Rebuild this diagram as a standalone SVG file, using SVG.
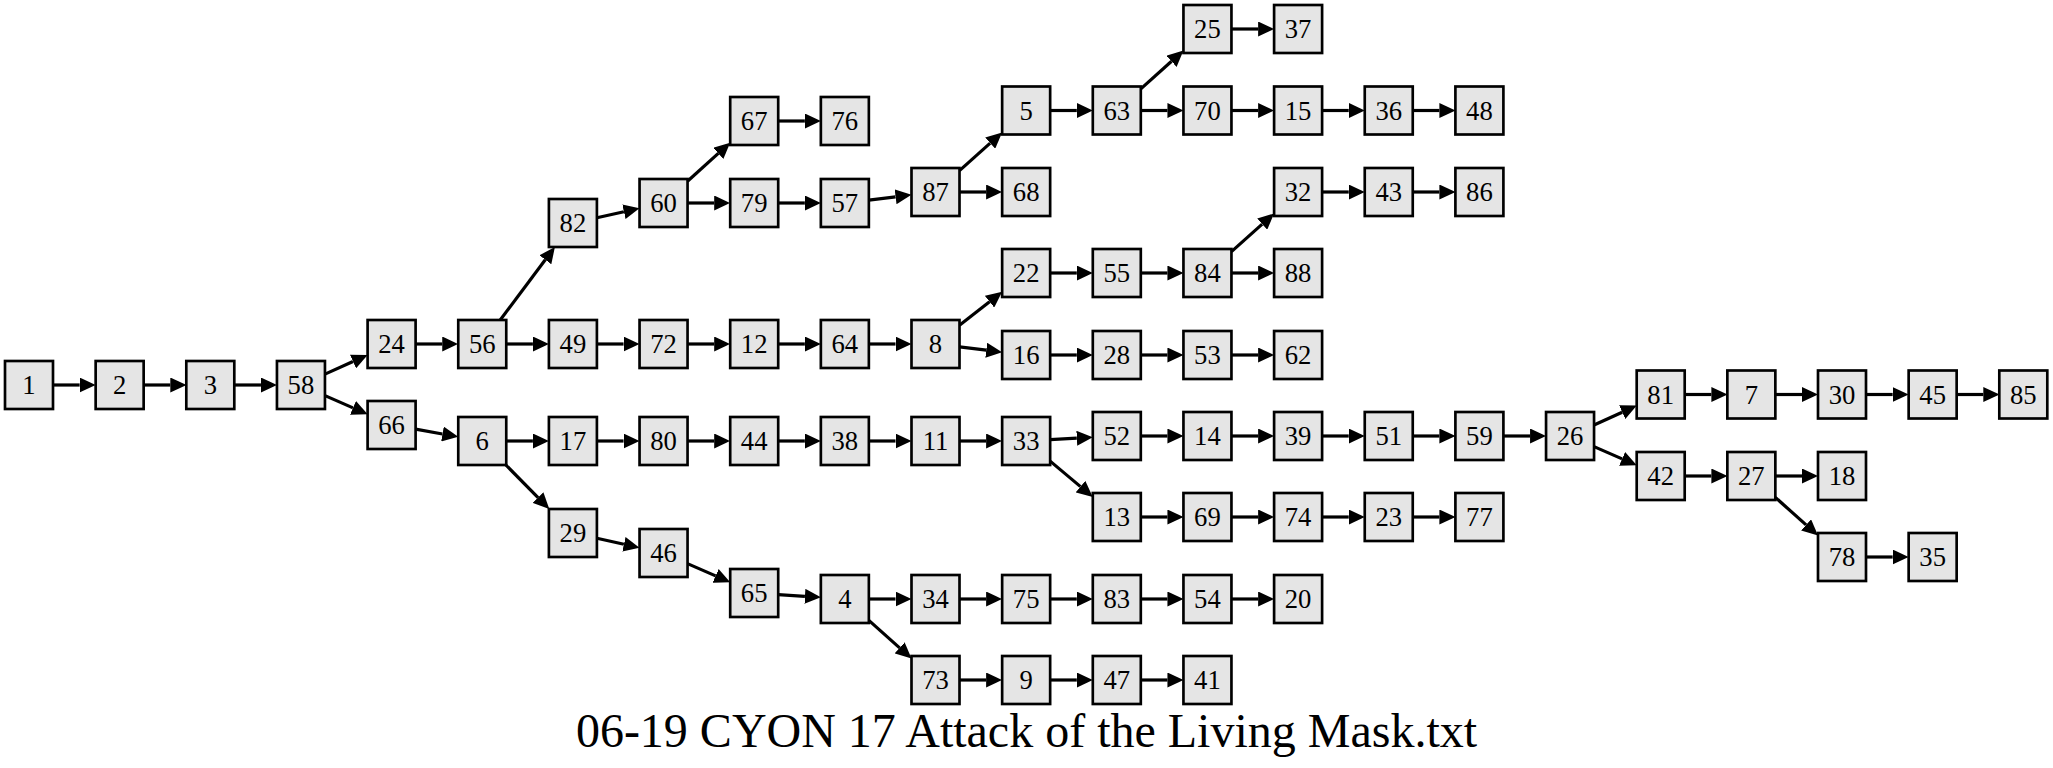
<svg xmlns="http://www.w3.org/2000/svg" width="2053" height="768" viewBox="0 0 2053 768">
<style>
.node rect{fill:#e5e5e5;stroke:#000;stroke-width:2.67}
.node text{font-family:"Liberation Serif","Times New Roman",serif;font-size:26.67px;text-anchor:middle;fill:#000}
.edges line{stroke:#000;stroke-width:3.2;marker-end:url(#ah)}
.title{font-family:"Liberation Serif","Times New Roman",serif;font-size:48px;text-anchor:middle;fill:#000}
</style>
<defs>
<marker id="ah" markerUnits="userSpaceOnUse" viewBox="0 0 16 15" markerWidth="16" markerHeight="15" refX="0" refY="7.5" orient="auto">
<path d="M0,0 L16,7.5 L0,15 z" fill="#000"/>
</marker>
</defs>
<rect width="2053" height="768" fill="#fff"/>
<g class="edges">
<line x1="53" y1="385" x2="79.65" y2="385"/>
<line x1="143.65" y1="385" x2="170.3" y2="385"/>
<line x1="234.3" y1="385" x2="260.95" y2="385"/>
<line x1="325" y1="374.1" x2="353" y2="361.5"/>
<line x1="325" y1="395.6" x2="353" y2="407.9"/>
<line x1="415.6" y1="344" x2="442.25" y2="344"/>
<line x1="506.25" y1="344" x2="532.9" y2="344"/>
<line x1="596.9" y1="344" x2="623.55" y2="344"/>
<line x1="687.55" y1="344" x2="714.2" y2="344"/>
<line x1="778.2" y1="344" x2="804.85" y2="344"/>
<line x1="868.85" y1="344" x2="895.5" y2="344"/>
<line x1="500.2" y1="320" x2="545.3" y2="259.8"/>
<line x1="596.9" y1="217.7" x2="623.9" y2="211.7"/>
<line x1="687.5" y1="181.3" x2="718.3" y2="153.4"/>
<line x1="687.55" y1="203" x2="714.2" y2="203"/>
<line x1="778.2" y1="203" x2="804.85" y2="203"/>
<line x1="778.2" y1="121" x2="804.85" y2="121"/>
<line x1="868.85" y1="200.1" x2="895.6" y2="196.8"/>
<line x1="959.5" y1="170.6" x2="990.2" y2="143.1"/>
<line x1="959.5" y1="192" x2="986.15" y2="192"/>
<line x1="1050.15" y1="110.5" x2="1076.8" y2="110.5"/>
<line x1="1140.8" y1="88.9" x2="1171.55" y2="61.3"/>
<line x1="1140.8" y1="110.5" x2="1167.45" y2="110.5"/>
<line x1="1231.45" y1="29" x2="1258.1" y2="29"/>
<line x1="1231.45" y1="110.5" x2="1258.1" y2="110.5"/>
<line x1="1322.1" y1="110.5" x2="1348.75" y2="110.5"/>
<line x1="1412.75" y1="110.5" x2="1439.4" y2="110.5"/>
<line x1="959.5" y1="325.2" x2="989.55" y2="301.7"/>
<line x1="959.5" y1="346.9" x2="986.25" y2="350.2"/>
<line x1="1050.15" y1="273" x2="1076.8" y2="273"/>
<line x1="1140.8" y1="273" x2="1167.45" y2="273"/>
<line x1="1231.45" y1="251.6" x2="1262.2" y2="224.1"/>
<line x1="1231.45" y1="273" x2="1258.1" y2="273"/>
<line x1="1322.1" y1="192" x2="1348.75" y2="192"/>
<line x1="1412.75" y1="192" x2="1439.4" y2="192"/>
<line x1="1050.15" y1="355" x2="1076.8" y2="355"/>
<line x1="1140.8" y1="355" x2="1167.45" y2="355"/>
<line x1="1231.45" y1="355" x2="1258.1" y2="355"/>
<line x1="415.6" y1="429.2" x2="442.5" y2="434"/>
<line x1="506.25" y1="441" x2="532.9" y2="441"/>
<line x1="596.9" y1="441" x2="623.55" y2="441"/>
<line x1="687.55" y1="441" x2="714.2" y2="441"/>
<line x1="778.2" y1="441" x2="804.85" y2="441"/>
<line x1="868.85" y1="441" x2="895.5" y2="441"/>
<line x1="959.5" y1="441" x2="986.15" y2="441"/>
<line x1="1050.15" y1="439.7" x2="1076.8" y2="438.2"/>
<line x1="1050.15" y1="461.1" x2="1080.5" y2="486.6"/>
<line x1="1140.8" y1="436" x2="1167.45" y2="436"/>
<line x1="1231.45" y1="436" x2="1258.1" y2="436"/>
<line x1="1322.1" y1="436" x2="1348.75" y2="436"/>
<line x1="1412.75" y1="436" x2="1439.4" y2="436"/>
<line x1="1503.4" y1="436" x2="1530.05" y2="436"/>
<line x1="1594.05" y1="425" x2="1622.2" y2="412.2"/>
<line x1="1594.05" y1="446.6" x2="1622.1" y2="458.9"/>
<line x1="1684.7" y1="394.5" x2="1711.35" y2="394.5"/>
<line x1="1775.35" y1="394.5" x2="1802" y2="394.5"/>
<line x1="1866" y1="394.5" x2="1892.65" y2="394.5"/>
<line x1="1956.65" y1="394.5" x2="1983.3" y2="394.5"/>
<line x1="1684.7" y1="476" x2="1711.35" y2="476"/>
<line x1="1775.35" y1="476" x2="1802" y2="476"/>
<line x1="1775.35" y1="497.4" x2="1806.1" y2="524.9"/>
<line x1="1866" y1="557" x2="1892.65" y2="557"/>
<line x1="1140.8" y1="517" x2="1167.45" y2="517"/>
<line x1="1231.45" y1="517" x2="1258.1" y2="517"/>
<line x1="1322.1" y1="517" x2="1348.75" y2="517"/>
<line x1="1412.75" y1="517" x2="1439.4" y2="517"/>
<line x1="505.9" y1="465" x2="538.05" y2="497.6"/>
<line x1="596.9" y1="538.3" x2="623.9" y2="544.3"/>
<line x1="687.5" y1="563.6" x2="715.6" y2="575.9"/>
<line x1="778.2" y1="594.6" x2="804.9" y2="596.3"/>
<line x1="868.85" y1="599" x2="895.5" y2="599"/>
<line x1="959.5" y1="599" x2="986.15" y2="599"/>
<line x1="1050.15" y1="599" x2="1076.8" y2="599"/>
<line x1="1140.8" y1="599" x2="1167.45" y2="599"/>
<line x1="1231.45" y1="599" x2="1258.1" y2="599"/>
<line x1="868.85" y1="620.4" x2="899.6" y2="647.9"/>
<line x1="959.5" y1="680" x2="986.15" y2="680"/>
<line x1="1050.15" y1="680" x2="1076.8" y2="680"/>
<line x1="1140.8" y1="680" x2="1167.45" y2="680"/>
</g>
<g id="n1" class="node" transform="translate(29,385)"><rect x="-24" y="-24" width="48" height="48"/><text y="9.3">1</text></g>
<g id="n2" class="node" transform="translate(119.65,385)"><rect x="-24" y="-24" width="48" height="48"/><text y="9.3">2</text></g>
<g id="n3" class="node" transform="translate(210.3,385)"><rect x="-24" y="-24" width="48" height="48"/><text y="9.3">3</text></g>
<g id="n58" class="node" transform="translate(300.95,385)"><rect x="-24" y="-24" width="48" height="48"/><text y="9.3">58</text></g>
<g id="n24" class="node" transform="translate(391.6,344)"><rect x="-24" y="-24" width="48" height="48"/><text y="9.3">24</text></g>
<g id="n66" class="node" transform="translate(391.6,425)"><rect x="-24" y="-24" width="48" height="48"/><text y="9.3">66</text></g>
<g id="n56" class="node" transform="translate(482.25,344)"><rect x="-24" y="-24" width="48" height="48"/><text y="9.3">56</text></g>
<g id="n6" class="node" transform="translate(482.25,441)"><rect x="-24" y="-24" width="48" height="48"/><text y="9.3">6</text></g>
<g id="n82" class="node" transform="translate(572.9,223)"><rect x="-24" y="-24" width="48" height="48"/><text y="9.3">82</text></g>
<g id="n49" class="node" transform="translate(572.9,344)"><rect x="-24" y="-24" width="48" height="48"/><text y="9.3">49</text></g>
<g id="n17" class="node" transform="translate(572.9,441)"><rect x="-24" y="-24" width="48" height="48"/><text y="9.3">17</text></g>
<g id="n29" class="node" transform="translate(572.9,533)"><rect x="-24" y="-24" width="48" height="48"/><text y="9.3">29</text></g>
<g id="n60" class="node" transform="translate(663.55,203)"><rect x="-24" y="-24" width="48" height="48"/><text y="9.3">60</text></g>
<g id="n72" class="node" transform="translate(663.55,344)"><rect x="-24" y="-24" width="48" height="48"/><text y="9.3">72</text></g>
<g id="n80" class="node" transform="translate(663.55,441)"><rect x="-24" y="-24" width="48" height="48"/><text y="9.3">80</text></g>
<g id="n46" class="node" transform="translate(663.55,553)"><rect x="-24" y="-24" width="48" height="48"/><text y="9.3">46</text></g>
<g id="n67" class="node" transform="translate(754.2,121)"><rect x="-24" y="-24" width="48" height="48"/><text y="9.3">67</text></g>
<g id="n79" class="node" transform="translate(754.2,203)"><rect x="-24" y="-24" width="48" height="48"/><text y="9.3">79</text></g>
<g id="n12" class="node" transform="translate(754.2,344)"><rect x="-24" y="-24" width="48" height="48"/><text y="9.3">12</text></g>
<g id="n44" class="node" transform="translate(754.2,441)"><rect x="-24" y="-24" width="48" height="48"/><text y="9.3">44</text></g>
<g id="n65" class="node" transform="translate(754.2,593)"><rect x="-24" y="-24" width="48" height="48"/><text y="9.3">65</text></g>
<g id="n76" class="node" transform="translate(844.85,121)"><rect x="-24" y="-24" width="48" height="48"/><text y="9.3">76</text></g>
<g id="n57" class="node" transform="translate(844.85,203)"><rect x="-24" y="-24" width="48" height="48"/><text y="9.3">57</text></g>
<g id="n64" class="node" transform="translate(844.85,344)"><rect x="-24" y="-24" width="48" height="48"/><text y="9.3">64</text></g>
<g id="n38" class="node" transform="translate(844.85,441)"><rect x="-24" y="-24" width="48" height="48"/><text y="9.3">38</text></g>
<g id="n4" class="node" transform="translate(844.85,599)"><rect x="-24" y="-24" width="48" height="48"/><text y="9.3">4</text></g>
<g id="n87" class="node" transform="translate(935.5,192)"><rect x="-24" y="-24" width="48" height="48"/><text y="9.3">87</text></g>
<g id="n8" class="node" transform="translate(935.5,344)"><rect x="-24" y="-24" width="48" height="48"/><text y="9.3">8</text></g>
<g id="n11" class="node" transform="translate(935.5,441)"><rect x="-24" y="-24" width="48" height="48"/><text y="9.3">11</text></g>
<g id="n34" class="node" transform="translate(935.5,599)"><rect x="-24" y="-24" width="48" height="48"/><text y="9.3">34</text></g>
<g id="n73" class="node" transform="translate(935.5,680)"><rect x="-24" y="-24" width="48" height="48"/><text y="9.3">73</text></g>
<g id="n5" class="node" transform="translate(1026.15,110.5)"><rect x="-24" y="-24" width="48" height="48"/><text y="9.3">5</text></g>
<g id="n68" class="node" transform="translate(1026.15,192)"><rect x="-24" y="-24" width="48" height="48"/><text y="9.3">68</text></g>
<g id="n22" class="node" transform="translate(1026.15,273)"><rect x="-24" y="-24" width="48" height="48"/><text y="9.3">22</text></g>
<g id="n16" class="node" transform="translate(1026.15,355)"><rect x="-24" y="-24" width="48" height="48"/><text y="9.3">16</text></g>
<g id="n33" class="node" transform="translate(1026.15,441)"><rect x="-24" y="-24" width="48" height="48"/><text y="9.3">33</text></g>
<g id="n75" class="node" transform="translate(1026.15,599)"><rect x="-24" y="-24" width="48" height="48"/><text y="9.3">75</text></g>
<g id="n9" class="node" transform="translate(1026.15,680)"><rect x="-24" y="-24" width="48" height="48"/><text y="9.3">9</text></g>
<g id="n63" class="node" transform="translate(1116.8,110.5)"><rect x="-24" y="-24" width="48" height="48"/><text y="9.3">63</text></g>
<g id="n55" class="node" transform="translate(1116.8,273)"><rect x="-24" y="-24" width="48" height="48"/><text y="9.3">55</text></g>
<g id="n28" class="node" transform="translate(1116.8,355)"><rect x="-24" y="-24" width="48" height="48"/><text y="9.3">28</text></g>
<g id="n52" class="node" transform="translate(1116.8,436)"><rect x="-24" y="-24" width="48" height="48"/><text y="9.3">52</text></g>
<g id="n13" class="node" transform="translate(1116.8,517)"><rect x="-24" y="-24" width="48" height="48"/><text y="9.3">13</text></g>
<g id="n83" class="node" transform="translate(1116.8,599)"><rect x="-24" y="-24" width="48" height="48"/><text y="9.3">83</text></g>
<g id="n47" class="node" transform="translate(1116.8,680)"><rect x="-24" y="-24" width="48" height="48"/><text y="9.3">47</text></g>
<g id="n25" class="node" transform="translate(1207.45,29)"><rect x="-24" y="-24" width="48" height="48"/><text y="9.3">25</text></g>
<g id="n70" class="node" transform="translate(1207.45,110.5)"><rect x="-24" y="-24" width="48" height="48"/><text y="9.3">70</text></g>
<g id="n84" class="node" transform="translate(1207.45,273)"><rect x="-24" y="-24" width="48" height="48"/><text y="9.3">84</text></g>
<g id="n53" class="node" transform="translate(1207.45,355)"><rect x="-24" y="-24" width="48" height="48"/><text y="9.3">53</text></g>
<g id="n14" class="node" transform="translate(1207.45,436)"><rect x="-24" y="-24" width="48" height="48"/><text y="9.3">14</text></g>
<g id="n69" class="node" transform="translate(1207.45,517)"><rect x="-24" y="-24" width="48" height="48"/><text y="9.3">69</text></g>
<g id="n54" class="node" transform="translate(1207.45,599)"><rect x="-24" y="-24" width="48" height="48"/><text y="9.3">54</text></g>
<g id="n41" class="node" transform="translate(1207.45,680)"><rect x="-24" y="-24" width="48" height="48"/><text y="9.3">41</text></g>
<g id="n37" class="node" transform="translate(1298.1,29)"><rect x="-24" y="-24" width="48" height="48"/><text y="9.3">37</text></g>
<g id="n15" class="node" transform="translate(1298.1,110.5)"><rect x="-24" y="-24" width="48" height="48"/><text y="9.3">15</text></g>
<g id="n32" class="node" transform="translate(1298.1,192)"><rect x="-24" y="-24" width="48" height="48"/><text y="9.3">32</text></g>
<g id="n88" class="node" transform="translate(1298.1,273)"><rect x="-24" y="-24" width="48" height="48"/><text y="9.3">88</text></g>
<g id="n62" class="node" transform="translate(1298.1,355)"><rect x="-24" y="-24" width="48" height="48"/><text y="9.3">62</text></g>
<g id="n39" class="node" transform="translate(1298.1,436)"><rect x="-24" y="-24" width="48" height="48"/><text y="9.3">39</text></g>
<g id="n74" class="node" transform="translate(1298.1,517)"><rect x="-24" y="-24" width="48" height="48"/><text y="9.3">74</text></g>
<g id="n20" class="node" transform="translate(1298.1,599)"><rect x="-24" y="-24" width="48" height="48"/><text y="9.3">20</text></g>
<g id="n36" class="node" transform="translate(1388.75,110.5)"><rect x="-24" y="-24" width="48" height="48"/><text y="9.3">36</text></g>
<g id="n43" class="node" transform="translate(1388.75,192)"><rect x="-24" y="-24" width="48" height="48"/><text y="9.3">43</text></g>
<g id="n51" class="node" transform="translate(1388.75,436)"><rect x="-24" y="-24" width="48" height="48"/><text y="9.3">51</text></g>
<g id="n23" class="node" transform="translate(1388.75,517)"><rect x="-24" y="-24" width="48" height="48"/><text y="9.3">23</text></g>
<g id="n48" class="node" transform="translate(1479.4,110.5)"><rect x="-24" y="-24" width="48" height="48"/><text y="9.3">48</text></g>
<g id="n86" class="node" transform="translate(1479.4,192)"><rect x="-24" y="-24" width="48" height="48"/><text y="9.3">86</text></g>
<g id="n59" class="node" transform="translate(1479.4,436)"><rect x="-24" y="-24" width="48" height="48"/><text y="9.3">59</text></g>
<g id="n77" class="node" transform="translate(1479.4,517)"><rect x="-24" y="-24" width="48" height="48"/><text y="9.3">77</text></g>
<g id="n26" class="node" transform="translate(1570.05,436)"><rect x="-24" y="-24" width="48" height="48"/><text y="9.3">26</text></g>
<g id="n81" class="node" transform="translate(1660.7,394.5)"><rect x="-24" y="-24" width="48" height="48"/><text y="9.3">81</text></g>
<g id="n42" class="node" transform="translate(1660.7,476)"><rect x="-24" y="-24" width="48" height="48"/><text y="9.3">42</text></g>
<g id="n7" class="node" transform="translate(1751.35,394.5)"><rect x="-24" y="-24" width="48" height="48"/><text y="9.3">7</text></g>
<g id="n27" class="node" transform="translate(1751.35,476)"><rect x="-24" y="-24" width="48" height="48"/><text y="9.3">27</text></g>
<g id="n30" class="node" transform="translate(1842,394.5)"><rect x="-24" y="-24" width="48" height="48"/><text y="9.3">30</text></g>
<g id="n18" class="node" transform="translate(1842,476)"><rect x="-24" y="-24" width="48" height="48"/><text y="9.3">18</text></g>
<g id="n78" class="node" transform="translate(1842,557)"><rect x="-24" y="-24" width="48" height="48"/><text y="9.3">78</text></g>
<g id="n45" class="node" transform="translate(1932.65,394.5)"><rect x="-24" y="-24" width="48" height="48"/><text y="9.3">45</text></g>
<g id="n35" class="node" transform="translate(1932.65,557)"><rect x="-24" y="-24" width="48" height="48"/><text y="9.3">35</text></g>
<g id="n85" class="node" transform="translate(2023.3,394.5)"><rect x="-24" y="-24" width="48" height="48"/><text y="9.3">85</text></g>
<text class="title" x="1026.5" y="747">06-19 CYON 17 Attack of the Living Mask.txt</text>
</svg>
